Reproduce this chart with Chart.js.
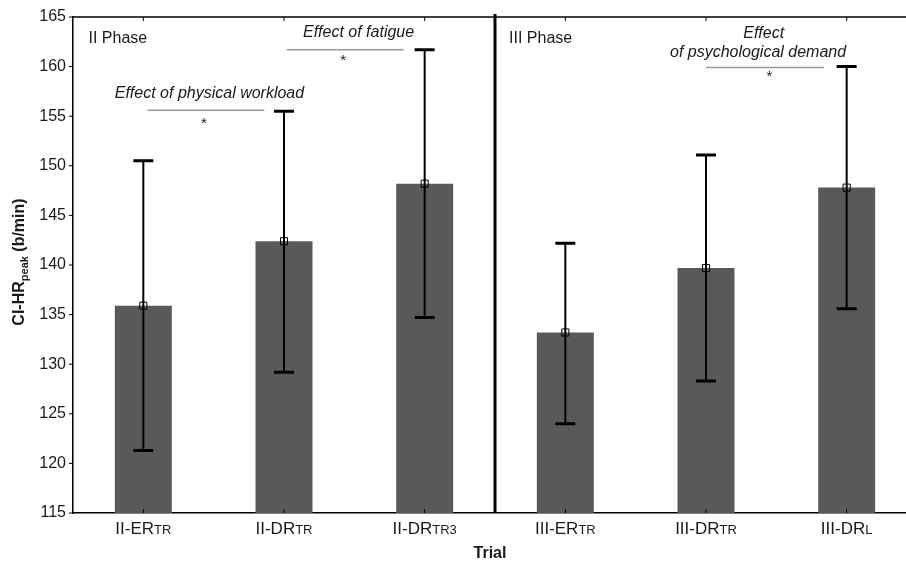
<!DOCTYPE html>
<html>
<head>
<meta charset="utf-8">
<script src="https://cdn.jsdelivr.net/npm/chart.js@4.4.1/dist/chart.umd.min.js"></script>
<style>
html,body{margin:0;padding:0;background:#fff;overflow:hidden;}
#wrap{width:923px;height:561px;}
</style>
</head>
<body>
<div id="wrap"><canvas id="c" width="923" height="561"></canvas></div>
<script>
// ---- data ----
const categories = ['II-ERTR', 'II-DRTR', 'II-DRTR3', 'III-ERTR', 'III-DRTR', 'III-DRL'];
const labelMain = ['II-ER', 'II-DR', 'II-DR', 'III-ER', 'III-DR', 'III-DR'];
const labelSub = ['TR', 'TR', 'TR3', 'TR', 'TR', 'L'];
const means = [135.9, 142.4, 148.2, 133.2, 139.7, 147.8];
const errHigh = [150.5, 155.5, 161.7, 142.2, 151.1, 160.0];
const errLow = [121.3, 129.2, 134.7, 124.0, 128.3, 135.6];
const yTicks = [115, 120, 125, 130, 135, 140, 145, 150, 155, 160, 165];

// annotation layout (category-index / value coordinates)
const sigLines = [
  {from: 0.03, to: 0.86, y: 155.6},
  {from: 1.02, to: 1.85, y: 161.7},
  {from: 4.00, to: 4.84, y: 159.9}
];
const sigStars = [
  {x: 0.43, y: 154.2},
  {x: 1.42, y: 160.6},
  {x: 4.45, y: 159.0}
];
const sigTexts = [
  {x: 0.47, y: 157.3, text: 'Effect of physical workload'},
  {x: 1.53, y: 163.4, text: 'Effect of fatigue'},
  {x: 4.41, y: 163.3, text: 'Effect'},
  {x: 4.37, y: 161.4, text: 'of psychological demand'}
];
const phaseTexts = [
  {x: -0.39, y: 162.8, text: 'II Phase'},
  {x: 2.60, y: 162.8, text: 'III Phase'}
];

const FONT = '"Liberation Sans", Arial, sans-serif';
const TXT = '#1a1a1a';

const extras = {
  id: 'extras',
  afterDatasetsDraw(chart) {
    const ctx = chart.ctx;
    const xs = chart.scales.x, ys = chart.scales.y;
    const ca = chart.chartArea;
    ctx.save();
    // error bars
    ctx.strokeStyle = '#000';
    for (let i = 0; i < means.length; i++) {
      const x = xs.getPixelForValue(i);
      const yh = ys.getPixelForValue(errHigh[i]);
      const yl = ys.getPixelForValue(errLow[i]);
      ctx.lineWidth = 2;
      ctx.beginPath(); ctx.moveTo(x, yh); ctx.lineTo(x, yl); ctx.stroke();
      ctx.lineWidth = 3;
      ctx.beginPath();
      ctx.moveTo(x - 10, yh); ctx.lineTo(x + 10, yh);
      ctx.moveTo(x - 10, yl); ctx.lineTo(x + 10, yl);
      ctx.stroke();
    }
    // top frame
    ctx.lineWidth = 1.5;
    ctx.beginPath(); ctx.moveTo(ca.left, ca.top); ctx.lineTo(ca.right, ca.top); ctx.stroke();
    // inner ticks at category centres
    ctx.lineWidth = 1;
    for (let i = 0; i < categories.length; i++) {
      const x = xs.getPixelForValue(i);
      ctx.beginPath();
      ctx.moveTo(x, ca.top); ctx.lineTo(x, ca.top + 4);
      ctx.moveTo(x, ca.bottom); ctx.lineTo(x, ca.bottom - 4);
      ctx.stroke();
    }
    // y tick marks (outside)
    yTicks.forEach(v => {
      const y = ys.getPixelForValue(v);
      ctx.beginPath(); ctx.moveTo(ca.left - 4, y); ctx.lineTo(ca.left, y); ctx.stroke();
    });
    // phase separator
    const sx = (xs.getPixelForValue(2) + xs.getPixelForValue(3)) / 2;
    ctx.lineWidth = 3;
    ctx.beginPath(); ctx.moveTo(sx, ca.top - 3); ctx.lineTo(sx, ca.bottom); ctx.stroke();
    // significance lines
    ctx.strokeStyle = '#9a9a9a';
    ctx.lineWidth = 1.5;
    sigLines.forEach(s => {
      const y = ys.getPixelForValue(s.y);
      ctx.beginPath(); ctx.moveTo(xs.getPixelForValue(s.from), y); ctx.lineTo(xs.getPixelForValue(s.to), y); ctx.stroke();
    });
    ctx.fillStyle = TXT;
    ctx.textBaseline = 'middle';
    ctx.textAlign = 'center';
    ctx.font = '15px ' + FONT;
    sigStars.forEach(s => ctx.fillText('*', xs.getPixelForValue(s.x), ys.getPixelForValue(s.y)));
    ctx.font = 'italic 16px ' + FONT;
    sigTexts.forEach(s => ctx.fillText(s.text, xs.getPixelForValue(s.x), ys.getPixelForValue(s.y)));
    ctx.textAlign = 'left';
    ctx.font = '16px ' + FONT;
    phaseTexts.forEach(s => ctx.fillText(s.text, xs.getPixelForValue(s.x), ys.getPixelForValue(s.y)));
    // x tick labels with subscripts
    ctx.textBaseline = 'alphabetic';
    for (let i = 0; i < categories.length; i++) {
      const x = xs.getPixelForValue(i);
      ctx.font = '17px ' + FONT;
      const w1 = ctx.measureText(labelMain[i]).width;
      ctx.font = '13px ' + FONT;
      const w2 = ctx.measureText(labelSub[i]).width;
      const x0 = x - (w1 + w2) / 2;
      const by = ca.bottom + 21;
      ctx.font = '17px ' + FONT;
      ctx.fillText(labelMain[i], x0, by);
      ctx.font = '13px ' + FONT;
      ctx.fillText(labelSub[i], x0 + w1, by);
    }
    // x axis title
    ctx.textAlign = 'center';
    ctx.font = 'bold 16px ' + FONT;
    ctx.fillText('Trial', (ca.left + ca.right) / 2 - 5, ca.bottom + 45);
    // y axis title with subscript
    ctx.translate(20, 262);
    ctx.rotate(-Math.PI / 2);
    const p1 = 'CI-HR', p2 = 'peak', p3 = ' (b/min)';
    ctx.font = 'bold 16px ' + FONT;
    const a = ctx.measureText(p1).width, c = ctx.measureText(p3).width;
    ctx.font = 'bold 11px ' + FONT;
    const b = ctx.measureText(p2).width;
    let tx = -(a + b + c) / 2;
    ctx.textAlign = 'left';
    ctx.textBaseline = 'middle';
    ctx.font = 'bold 16px ' + FONT;
    ctx.fillText(p1, tx, 0);
    ctx.font = 'bold 11px ' + FONT;
    ctx.fillText(p2, tx + a, 5);
    ctx.font = 'bold 16px ' + FONT;
    ctx.fillText(p3, tx + a + b, 0);
    ctx.restore();
  }
};

new Chart(document.getElementById('c'), {
  data: {
    labels: categories,
    datasets: [
      {
        type: 'line',
        label: 'mean',
        data: means,
        showLine: false,
        pointStyle: 'rect',
        pointRadius: 5,
        pointHoverRadius: 5,
        borderColor: '#000',
        backgroundColor: 'rgba(0,0,0,0)',
        borderWidth: 1,
        order: 0
      },
      {
        type: 'bar',
        label: 'CI-HRpeak',
        data: means,
        backgroundColor: '#595959',
        borderWidth: 0,
        barPercentage: 0.405,
        categoryPercentage: 1.0,
        order: 1
      }
    ]
  },
  options: {
    responsive: false,
    animation: false,
    events: [],
    layout: {padding: {left: 0, top: 17, right: 1, bottom: 0}},
    plugins: {legend: {display: false}, tooltip: {enabled: false}},
    scales: {
      x: {
        type: 'category',
        offset: true,
        grid: {display: false, drawTicks: false},
        border: {display: true, color: '#000', width: 1.5},
        ticks: {display: false},
        afterFit: s => { s.height = 48; }
      },
      y: {
        min: 115,
        max: 165,
        afterBuildTicks: s => { s.ticks = yTicks.map(v => ({value: v})); },
        grid: {display: false, drawTicks: false},
        border: {display: true, color: '#000', width: 1.5},
        ticks: {color: TXT, font: {family: FONT, size: 16}, padding: 7},
        afterFit: s => { s.width = 73; }
      }
    }
  },
  plugins: [extras]
});
</script>
</body>
</html>
